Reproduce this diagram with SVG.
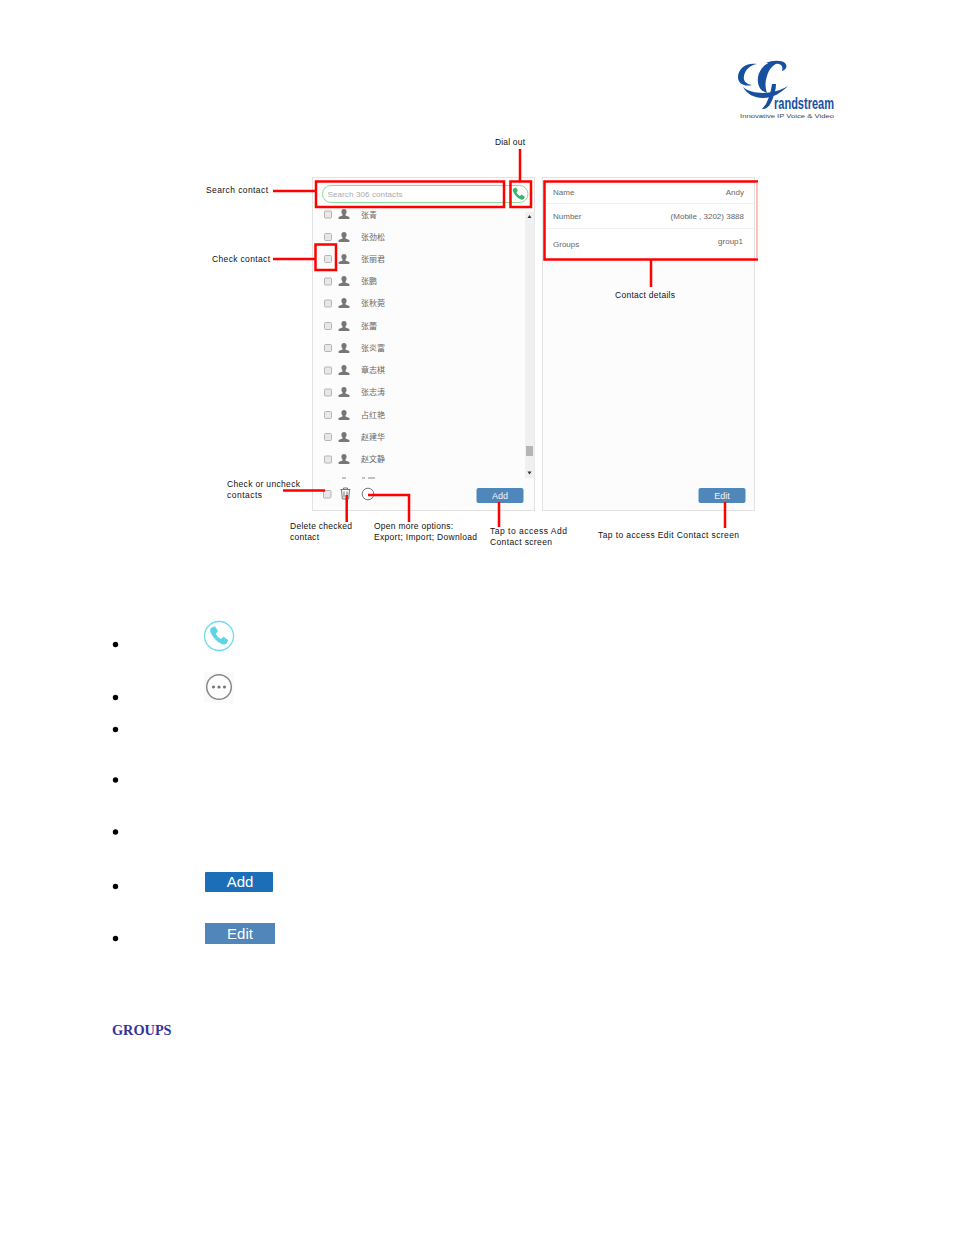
<svg xmlns="http://www.w3.org/2000/svg" width="954" height="1235" viewBox="0 0 954 1235">
<style>
.lbl{font:8.5px "Liberation Sans",Arial,sans-serif;fill:#111}
.ui{font:8px "Liberation Sans",Arial,sans-serif;fill:#666}
.cn{font:8px "Noto Sans CJK SC","Liberation Sans",sans-serif;fill:#666}
.panel{fill:#fcfcfc;stroke:#e2e2e2;stroke-width:1}
.red{fill:none;stroke:#f00;stroke-width:2.5}
.cb{fill:#e8e8e8;stroke:#b5b5b5;stroke-width:1}
.btn{fill:#4f87ba}
.btnt{font:9px "Liberation Sans",Arial,sans-serif;fill:#f2f6fa;text-anchor:middle}
.bullet{fill:#000}
.big{font:15px "Liberation Sans",Arial,sans-serif;fill:#fff;text-anchor:middle}
</style>
<defs>
<path id="person" d="M0-5c1.700 0 2.600 1.200 2.600 2.800 0 1.100-.5 2.100-1.100 2.800v1l3.900 1.400V5H-5.400V3l3.900-1.400v-1c-.6-.7-1.100-1.700-1.100-2.800C-2.600-3.800-1.700-5 0-5z" fill="#777"/>
<path id="handset" d="M-5.500-5.500l2.500-1 2 3.300-1.500 1.500c.6 1.600 2 3 3.500 3.700l1.600-1.500 3.200 2.200-1 2.300c-1 .8-2.300.8-3.500.3C-1.500 4-4.500 1-6-2.500c-.4-1.100-.3-2.200.5-3z"/>
</defs>
<rect width="954" height="1235" fill="#fff"/>

<g id="logo">
<g fill="#17509f">
<path d="M757 64C746 62 738 69 738 77C738 84 745 87 752 85C746 84 743 81 744 76C745 70 750 65 757 64Z"/>
<path d="M781 62C769 59 760 67 758 77C757 85 760 91 767 93C765 87 765 82 767 76C769 69 773 64 781 62Z"/>
<path d="M766 63C772 60 782 60 785 63C788 66 786 70 782 71C783 67 782 65 779 64C775 63 771 63 766 63Z"/>
<path d="M743 87C750 93 762 94 772 92C778 91 783 89 788 86C781 93 773 98 763 98C754 98 747 94 743 87Z"/>
<path d="M776 84L772 84C771 91 769 98 766 104L762 109C767 110 771 104 773 98C774 94 776 90 776 84Z"/>
</g>
<text x="774" y="109" font-family="Liberation Sans, Arial, sans-serif" font-size="16" font-weight="bold" fill="#17509f" textLength="60" lengthAdjust="spacingAndGlyphs">randstream</text>
<text x="740" y="118" font-family="Liberation Sans, Arial, sans-serif" font-size="6" fill="#444" textLength="94" lengthAdjust="spacingAndGlyphs">Innovative IP Voice &amp; Video</text>
</g>

<g id="contact-list">
<rect class="panel" x="312.500" y="177.500" width="222" height="333"/>
<rect x="525" y="212" width="9.500" height="266" fill="#f0f0f0"/>
<rect x="526" y="446" width="7" height="10" fill="#b5b5b5"/>
<path d="M529.500 215l2 3h-4zM529.500 474.500l2-3h-4z" fill="#333"/>
<rect x="322.500" y="185.500" width="205.500" height="17" rx="8.500" fill="#fff" stroke="#8fdc9f"/>
<text class="ui" x="327.500" y="196.500" style="fill:#aaa" textLength="75">Search 306 contacts</text>
<use href="#handset" x="519" y="194" fill="#3cb371"/>
<g id="row-1"><rect class="cb" x="324.500" y="211" width="7" height="7" rx="1"/><use href="#person" x="344" y="214"/><text class="cn" x="361" y="217.500">张青</text></g>
<g id="row-2"><rect class="cb" x="324.500" y="233.500" width="7" height="7" rx="1"/><use href="#person" x="344" y="237"/><text class="cn" x="361" y="240">张劲松</text></g>
<g id="row-3"><rect class="cb" x="324.500" y="255.500" width="7" height="7" rx="1"/><use href="#person" x="344" y="259"/><text class="cn" x="361" y="262">张丽君</text></g>
<g id="row-4"><rect class="cb" x="324.500" y="278" width="7" height="7" rx="1"/><use href="#person" x="344" y="281"/><text class="cn" x="361" y="284">张鹏</text></g>
<g id="row-5"><rect class="cb" x="324.500" y="300" width="7" height="7" rx="1"/><use href="#person" x="344" y="303"/><text class="cn" x="361" y="306">张秋菀</text></g>
<g id="row-6"><rect class="cb" x="324.500" y="322.500" width="7" height="7" rx="1"/><use href="#person" x="344" y="326"/><text class="cn" x="361" y="329">张蕾</text></g>
<g id="row-7"><rect class="cb" x="324.500" y="344.500" width="7" height="7" rx="1"/><use href="#person" x="344" y="348"/><text class="cn" x="361" y="351">张炎富</text></g>
<g id="row-8"><rect class="cb" x="324.500" y="367" width="7" height="7" rx="1"/><use href="#person" x="344" y="370"/><text class="cn" x="361" y="373">章志棋</text></g>
<g id="row-9"><rect class="cb" x="324.500" y="389" width="7" height="7" rx="1"/><use href="#person" x="344" y="392"/><text class="cn" x="361" y="395">张志涛</text></g>
<g id="row-10"><rect class="cb" x="324.500" y="411.500" width="7" height="7" rx="1"/><use href="#person" x="344" y="415"/><text class="cn" x="361" y="418">占红艳</text></g>
<g id="row-11"><rect class="cb" x="324.500" y="433.500" width="7" height="7" rx="1"/><use href="#person" x="344" y="437"/><text class="cn" x="361" y="440">赵建华</text></g>
<g id="row-12"><rect class="cb" x="324.500" y="456" width="7" height="7" rx="1"/><use href="#person" x="344" y="459"/><text class="cn" x="361" y="462">赵文静</text></g>
<path d="M342 478h4M362 478h3M368 478h7" stroke="#888" stroke-width="1"/>
<rect class="cb" x="323.500" y="490.500" width="7.500" height="7.500" rx="1"/>
<path d="M340.500 489.500h10M343.500 489.500v-1.500h4v1.500M341.500 489.500l.8 9.500h6.400l.8-9.500M344 491.500v6M347 491.500v6" fill="none" stroke="#777"/>
<circle cx="368" cy="494" r="5.800" fill="none" stroke="#777"/>
<rect class="btn" x="476.500" y="488" width="47" height="15" rx="2"/>
<text class="btnt" x="500" y="498.500">Add</text>
</g>

<g id="contact-details">
<rect class="panel" x="542.500" y="177.500" width="212" height="333"/>
<rect x="543" y="181" width="211" height="78" fill="#fff"/>
<path d="M546 203.500h208M546 228.500h208" stroke="#f0f0f0"/>
<text class="ui" x="553" y="194.500">Name</text>
<text class="ui" x="744" y="194.500" text-anchor="end">Andy</text>
<text class="ui" x="553" y="218.500">Number</text>
<text class="ui" x="744" y="218.500" text-anchor="end">(Mobile , 3202) 3888</text>
<text class="ui" x="553" y="246.500">Groups</text>
<text class="ui" x="743" y="243.500" text-anchor="end">group1</text>
<rect class="btn" x="698.500" y="488" width="47" height="15" rx="2"/>
<text class="btnt" x="722" y="498.500">Edit</text>
</g>

<g id="connectors">
<rect class="red" x="316" y="181.500" width="188" height="25.500"/>
<rect class="red" x="510.500" y="181.500" width="20.500" height="25.500"/>
<rect class="red" x="315.500" y="244.500" width="20.500" height="25.500"/>
<path class="red" d="M758 181.500H544.500V259.500H758"/>
<path d="M757 182v77" stroke="#ff8080" stroke-width="1"/>
<path class="red" d="M520 149v32M273 191h42M273 259h42M283 490.500h42M346.700 495v27M368 495h41v27M499 502v25M725 502v26M651 260v27"/>
</g>

<g id="labels">
<text class="lbl" x="495" y="145" textLength="30">Dial out</text>
<text class="lbl" x="206" y="192.500" textLength="62">Search contact</text>
<text class="lbl" x="212" y="261.500" textLength="58">Check contact</text>
<text class="lbl" x="615" y="298" textLength="60">Contact details</text>
<text class="lbl" x="227" y="487" textLength="73">Check or uncheck</text>
<text class="lbl" x="227" y="498" textLength="35">contacts</text>
<text class="lbl" x="290" y="529" textLength="62">Delete checked</text>
<text class="lbl" x="290" y="540" textLength="29">contact</text>
<text class="lbl" x="374" y="529" textLength="79">Open more options:</text>
<text class="lbl" x="374" y="540" textLength="103">Export; Import; Download</text>
<text class="lbl" x="490" y="534" textLength="77">Tap to access Add</text>
<text class="lbl" x="490" y="545" textLength="62">Contact screen</text>
<text class="lbl" x="598" y="538" textLength="141">Tap to access Edit Contact screen</text>
</g>

<g id="legend">
<circle class="bullet" cx="115.500" cy="644.500" r="2.700"/>
<circle class="bullet" cx="115.500" cy="697.500" r="2.700"/>
<circle class="bullet" cx="115.500" cy="729.500" r="2.700"/>
<circle class="bullet" cx="115.500" cy="780" r="2.700"/>
<circle class="bullet" cx="115.500" cy="832" r="2.700"/>
<circle class="bullet" cx="115.500" cy="886.500" r="2.700"/>
<circle class="bullet" cx="115.500" cy="938.500" r="2.700"/>
<g id="icon-dial"><circle cx="219" cy="636" r="14.500" fill="#fff" stroke="#6fdcea" stroke-width="1.300"/><use href="#handset" transform="translate(219.500,636) scale(1.500)" fill="#5cd6e6"/></g>
<g id="icon-more"><rect x="204" y="672" width="30" height="31" fill="#fafafa"/><circle cx="219" cy="687" r="12.300" fill="#fff" stroke="#888" stroke-width="1.500"/><circle cx="213.500" cy="687" r="1.600" fill="#777"/><circle cx="219" cy="687" r="1.600" fill="#777"/><circle cx="224.500" cy="687" r="1.600" fill="#777"/></g>
<g id="btn-add"><rect x="205" y="872" width="68" height="20" rx="1" fill="#1a6fb8"/><text class="big" x="240" y="887">Add</text></g>
<g id="btn-edit"><rect x="205" y="923" width="70" height="21" fill="#5086ba"/><text class="big" x="240" y="939">Edit</text></g>
<text x="112" y="1035" font-family="Liberation Serif, Times New Roman, serif" font-size="14.300" font-weight="bold" fill="#33339b">GROUPS</text>
</g>
</svg>
